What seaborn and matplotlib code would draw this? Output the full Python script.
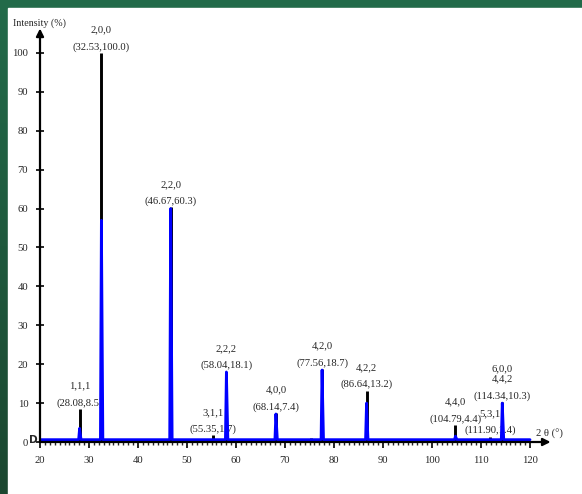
import numpy as np
import matplotlib
matplotlib.use("Agg")
import matplotlib.pyplot as plt
import seaborn as sns

# Reflection positions (2θ, degrees) and intensities (%)
two_theta = [28.08, 32.53, 46.67, 55.35, 58.04, 68.14, 75.30, 77.56, 86.64, 104.79, 111.90, 114.34]
ref_intensity = [8.5, 100.0, 60.3, 1.7, 18.1, 7.4, 1.0, 18.7, 13.2, 4.4, 1.4, 10.3]
obs_intensity = [3.5, 57.0, 60.0, 0.6, 18.0, 7.2, 0.4, 18.5, 10.0, 1.5, 0.6, 10.0]
obs_baseline = 0.6
scan_range = [20.0, 120.0]

# Miller indices for the labelled reflections (None = unlabelled)
hkl_labels = ["1,1,1", "2,0,0", "2,2,0", "3,1,1", "2,2,2", "4,0,0", None,
              "4,2,0", "4,2,2", "4,4,0", "5,3,1", "6,0,0\n4,4,2"]

x_ticks = [20, 30, 40, 50, 60, 70, 80, 90, 100, 110, 120]
y_ticks = [0, 10, 20, 30, 40, 50, 60, 70, 80, 90, 100]

sns.set_style("white")
plt.rcParams["font.family"] = ["Liberation Serif", "DejaVu Serif"]

W, H = 582, 494
fig = plt.figure(figsize=(W / 100, H / 100), dpi=100)

# green frame with a slight vertical gradient, white page inset
bg = fig.add_axes([0, 0, 1, 1], zorder=-10)
top_c = np.array([0x23, 0x6b, 0x4a]) / 255
bot_c = np.array([0x1b, 0x47, 0x30]) / 255
t = np.linspace(0, 1, 256)[:, None, None]
grad = top_c * (1 - t) + bot_c * t
bg.imshow(np.repeat(grad, 4, axis=1), aspect="auto", extent=[0, 1, 0, 1])
bg.add_patch(plt.Rectangle((8 / W, 0), 1, (H - 8) / H, color="white"))
bg.set_xlim(0, 1)
bg.set_ylim(0, 1)
bg.axis("off")

x_lo, x_hi = 20, 126
y_lo, y_hi = 0, 108
px_x, px_y = 4.9, 3.89
ax = fig.add_axes([40 / W, 52 / H, (x_hi - x_lo) * px_x / W, (y_hi - y_lo) * px_y / H])
ax.patch.set_alpha(0)

# reference stick pattern
ax.vlines(two_theta, 0, ref_intensity, color="black", lw=2.1, zorder=3)

# measured profile built from the peak list
prof_x = [scan_range[0]]
prof_y = [obs_baseline]
for p, h in zip(two_theta, obs_intensity):
    prof_x += [p - 0.2, p, p + 0.3]
    prof_y += [obs_baseline, max(h, obs_baseline), obs_baseline]
prof_x.append(scan_range[1])
prof_y.append(obs_baseline)
sns.lineplot(x=prof_x, y=prof_y, sort=False, estimator=None, color="#0000ff",
             lw=2.0, ax=ax, zorder=4)

# peak annotations
fs = 7.7
for p, h, lab in zip(two_theta, ref_intensity, hkl_labels):
    if lab is None:
        continue
    ax.annotate(f"({p:.2f},{h:.1f})", xy=(p, h), xytext=(0, 6),
                textcoords="offset pixels", ha="center", va="center",
                fontsize=fs, zorder=1)
    lines = lab.split("\n")
    for i, line in enumerate(reversed(lines)):
        ax.annotate(line, xy=(p, h), xytext=(0, 23 + 10 * i),
                    textcoords="offset pixels", ha="center", va="center",
                    fontsize=fs, zorder=1)

# axes drawn as arrows
arrow = dict(arrowstyle="-|>", lw=1.6, color="black", mutation_scale=11,
             shrinkA=0, shrinkB=0)
ax.annotate("", xy=(124.2, 0), xytext=(20, 0), arrowprops=arrow,
            annotation_clip=False, zorder=5)
ax.annotate("", xy=(20, 106.3), xytext=(20, 0), arrowprops=arrow,
            annotation_clip=False, zorder=5)
for s in ax.spines.values():
    s.set_visible(False)

ax.set_xlim(x_lo, x_hi)
ax.set_ylim(y_lo, y_hi)
ax.set_xticks(x_ticks)
ax.set_xticks(np.arange(20, 121, 1), minor=True)
ax.set_yticks(y_ticks)
ax.tick_params(axis="x", which="major", direction="out", length=4.5, width=1.4,
               pad=5.5, labelsize=fs, bottom=True)
ax.tick_params(axis="x", which="minor", direction="out", length=2.2, width=1.0,
               bottom=True)
ax.tick_params(axis="y", which="major", direction="inout", length=6, width=1.4,
               pad=5.5, labelsize=fs, left=True)
ax.grid(False)

ax.text(20, 107.6, "Intensity (%)", ha="center", va="center", fontsize=7.2)
ax.text(123.9, 2.0, "2 θ (°)", ha="center", va="center", fontsize=fs)
ax.text(18.6, 0.6, "D", ha="center", va="center", fontsize=7.5,
        fontweight="bold", family="DejaVu Sans", clip_on=False)

fig.savefig("out.png", dpi=100)
